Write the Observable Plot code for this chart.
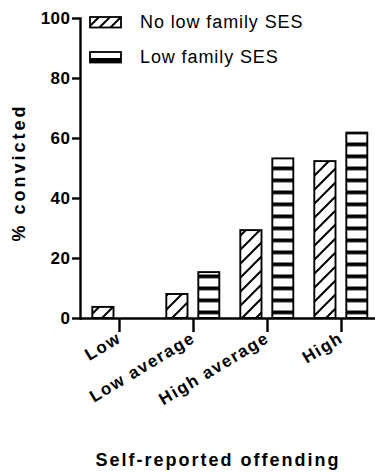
<!DOCTYPE html>
<html>
<head>
<meta charset="utf-8">
<script src="https://cdn.jsdelivr.net/npm/d3@7"></script>
<script src="https://cdn.jsdelivr.net/npm/@observablehq/plot@0.6"></script>
<style>
  html, body { margin: 0; padding: 0; background: #fff; }
  #chart { position: relative; width: 375px; height: 473px; font-family: "Liberation Sans", Arial, sans-serif; }
  #chart > svg g[aria-label="x-axis tick label"] text { letter-spacing: 1.5px; }
  #chart > svg g[aria-label="y-axis tick label"] text { letter-spacing: 0.5px; }
  #chart > svg g.x-title text { letter-spacing: 2px; }
  #chart > svg g.y-title text { letter-spacing: 3px; }
  #legend { position: absolute; left: 89px; top: 0; }
  .item { position: absolute; left: 0; white-space: nowrap; }
  .item svg { position: absolute; left: 0; }
  .item span { position: absolute; left: 51px; font-size: 18px; letter-spacing: 0.9px; color: #000; line-height: 1; }
</style>
</head>
<body>
<div id="chart"></div>
<script>
// Conviction rates by self-reported offending level and family SES
const categories = ["Low", "Low average", "High average", "High"];
const seriesNames = ["No low family SES", "Low family SES"];
const noLowSES = [3.7, 8.0, 29.3, 52.3];
const lowSES = [0, 15.3, 53.2, 61.8];
const yTicks = [0, 20, 40, 60, 80, 100];
const yTitle = "% convicted";
const xTitle = "Self-reported offending";

const rowsNoLow = categories.map((c, i) => ({category: c, value: noLowSES[i]}));
const rowsLow = categories.map((c, i) => ({category: c, value: lowSES[i]})).filter(d => d.value > 0);

const plot = Plot.plot({
  width: 375,
  height: 473,
  marginTop: 18,
  marginBottom: 155,
  marginLeft: 80,
  marginRight: 0,
  style: {fontFamily: "'Liberation Sans', Arial, sans-serif", background: "white", color: "black", overflow: "visible"},
  x: {domain: categories, range: [81.8, 379.2], padding: 0},
  y: {domain: [0, 100]},
  marks: [
    Plot.barY(rowsNoLow, {x: "category", y: "value", fill: "url(#hatch)", stroke: "black", strokeWidth: 1.9, insetLeft: 10.3, insetRight: 42.5}),
    Plot.barY(rowsLow, {x: "category", y: "value", fill: "url(#stripes)", stroke: "black", strokeWidth: 1.9, insetLeft: 42.3, insetRight: 10.7}),
    Plot.ruleY([0], {stroke: "black", strokeWidth: 2.4}),
    Plot.frame({anchor: "left", stroke: "black", strokeWidth: 2.4}),
    Plot.axisY({ticks: yTicks, tickSize: 8, tickPadding: 2, fontSize: 17, fontWeight: "bold", label: null, strokeWidth: 2.4}),
    Plot.axisX({tickSize: 14, tickPadding: 4, tickRotate: -31, fontSize: 17, fontWeight: "bold", label: null, strokeWidth: 2.4}),
    Plot.text([yTitle], {frameAnchor: "left", textAnchor: "middle", rotate: -90, dx: -61, dy: 4, fontSize: 18, fontWeight: "bold", className: "y-title"}),
    Plot.text([xTitle], {frameAnchor: "bottom", textAnchor: "middle", dx: -10, dy: 147, fontSize: 18, fontWeight: "bold", className: "x-title"})
  ]
});

// Fill patterns: diagonal hatching and horizontal stripes
const defs = d3.select(plot).insert("defs", ":first-child");
const hatch = defs.append("pattern").attr("id", "hatch").attr("patternUnits", "userSpaceOnUse")
  .attr("width", 14).attr("height", 14);
hatch.append("rect").attr("width", 14).attr("height", 14).attr("fill", "white");
hatch.append("path").attr("d", "M-2,2 L2,-2 M0,14 L14,0 M12,16 L16,12")
  .attr("stroke", "black").attr("stroke-width", 2);
const stripes = defs.append("pattern").attr("id", "stripes").attr("patternUnits", "userSpaceOnUse")
  .attr("y", 10.5).attr("width", 10).attr("height", 12);
stripes.append("rect").attr("width", 10).attr("height", 12).attr("fill", "white");
stripes.append("rect").attr("width", 10).attr("height", 3.8).attr("fill", "black");

const chart = document.getElementById("chart");
chart.appendChild(plot);

// Legend
const legend = d3.select(chart).append("div").attr("id", "legend");
const item1 = legend.append("div").attr("class", "item").style("top", "0px");
item1.append("svg").attr("width", 34).attr("height", 14).style("top", "16px")
  .call(s => {
    const p = s.append("defs").append("pattern").attr("id", "hatchKey").attr("patternUnits", "userSpaceOnUse")
      .attr("width", 11).attr("height", 11);
    p.append("rect").attr("width", 11).attr("height", 11).attr("fill", "white");
    p.append("path").attr("d", "M-2,2 L2,-2 M0,11 L11,0 M9,13 L13,9").attr("stroke", "black").attr("stroke-width", 2);
    s.append("rect").attr("x", 1).attr("y", 1).attr("width", 31).attr("height", 10.5)
      .attr("fill", "url(#hatchKey)").attr("stroke", "black").attr("stroke-width", 1.8);
  });
item1.append("span").style("top", "13px").text(seriesNames[0]);

const item2 = legend.append("div").attr("class", "item").style("top", "0px");
item2.append("svg").attr("width", 34).attr("height", 14).style("top", "51px")
  .call(s => {
    s.append("rect").attr("x", 1).attr("y", 1).attr("width", 31).attr("height", 10.5)
      .attr("fill", "white").attr("stroke", "black").attr("stroke-width", 1.8);
    s.append("rect").attr("x", 1).attr("y", 7).attr("width", 31).attr("height", 4.5).attr("fill", "black");
  });
item2.append("span").style("top", "48px").text(seriesNames[1]);
</script>
</body>
</html>
